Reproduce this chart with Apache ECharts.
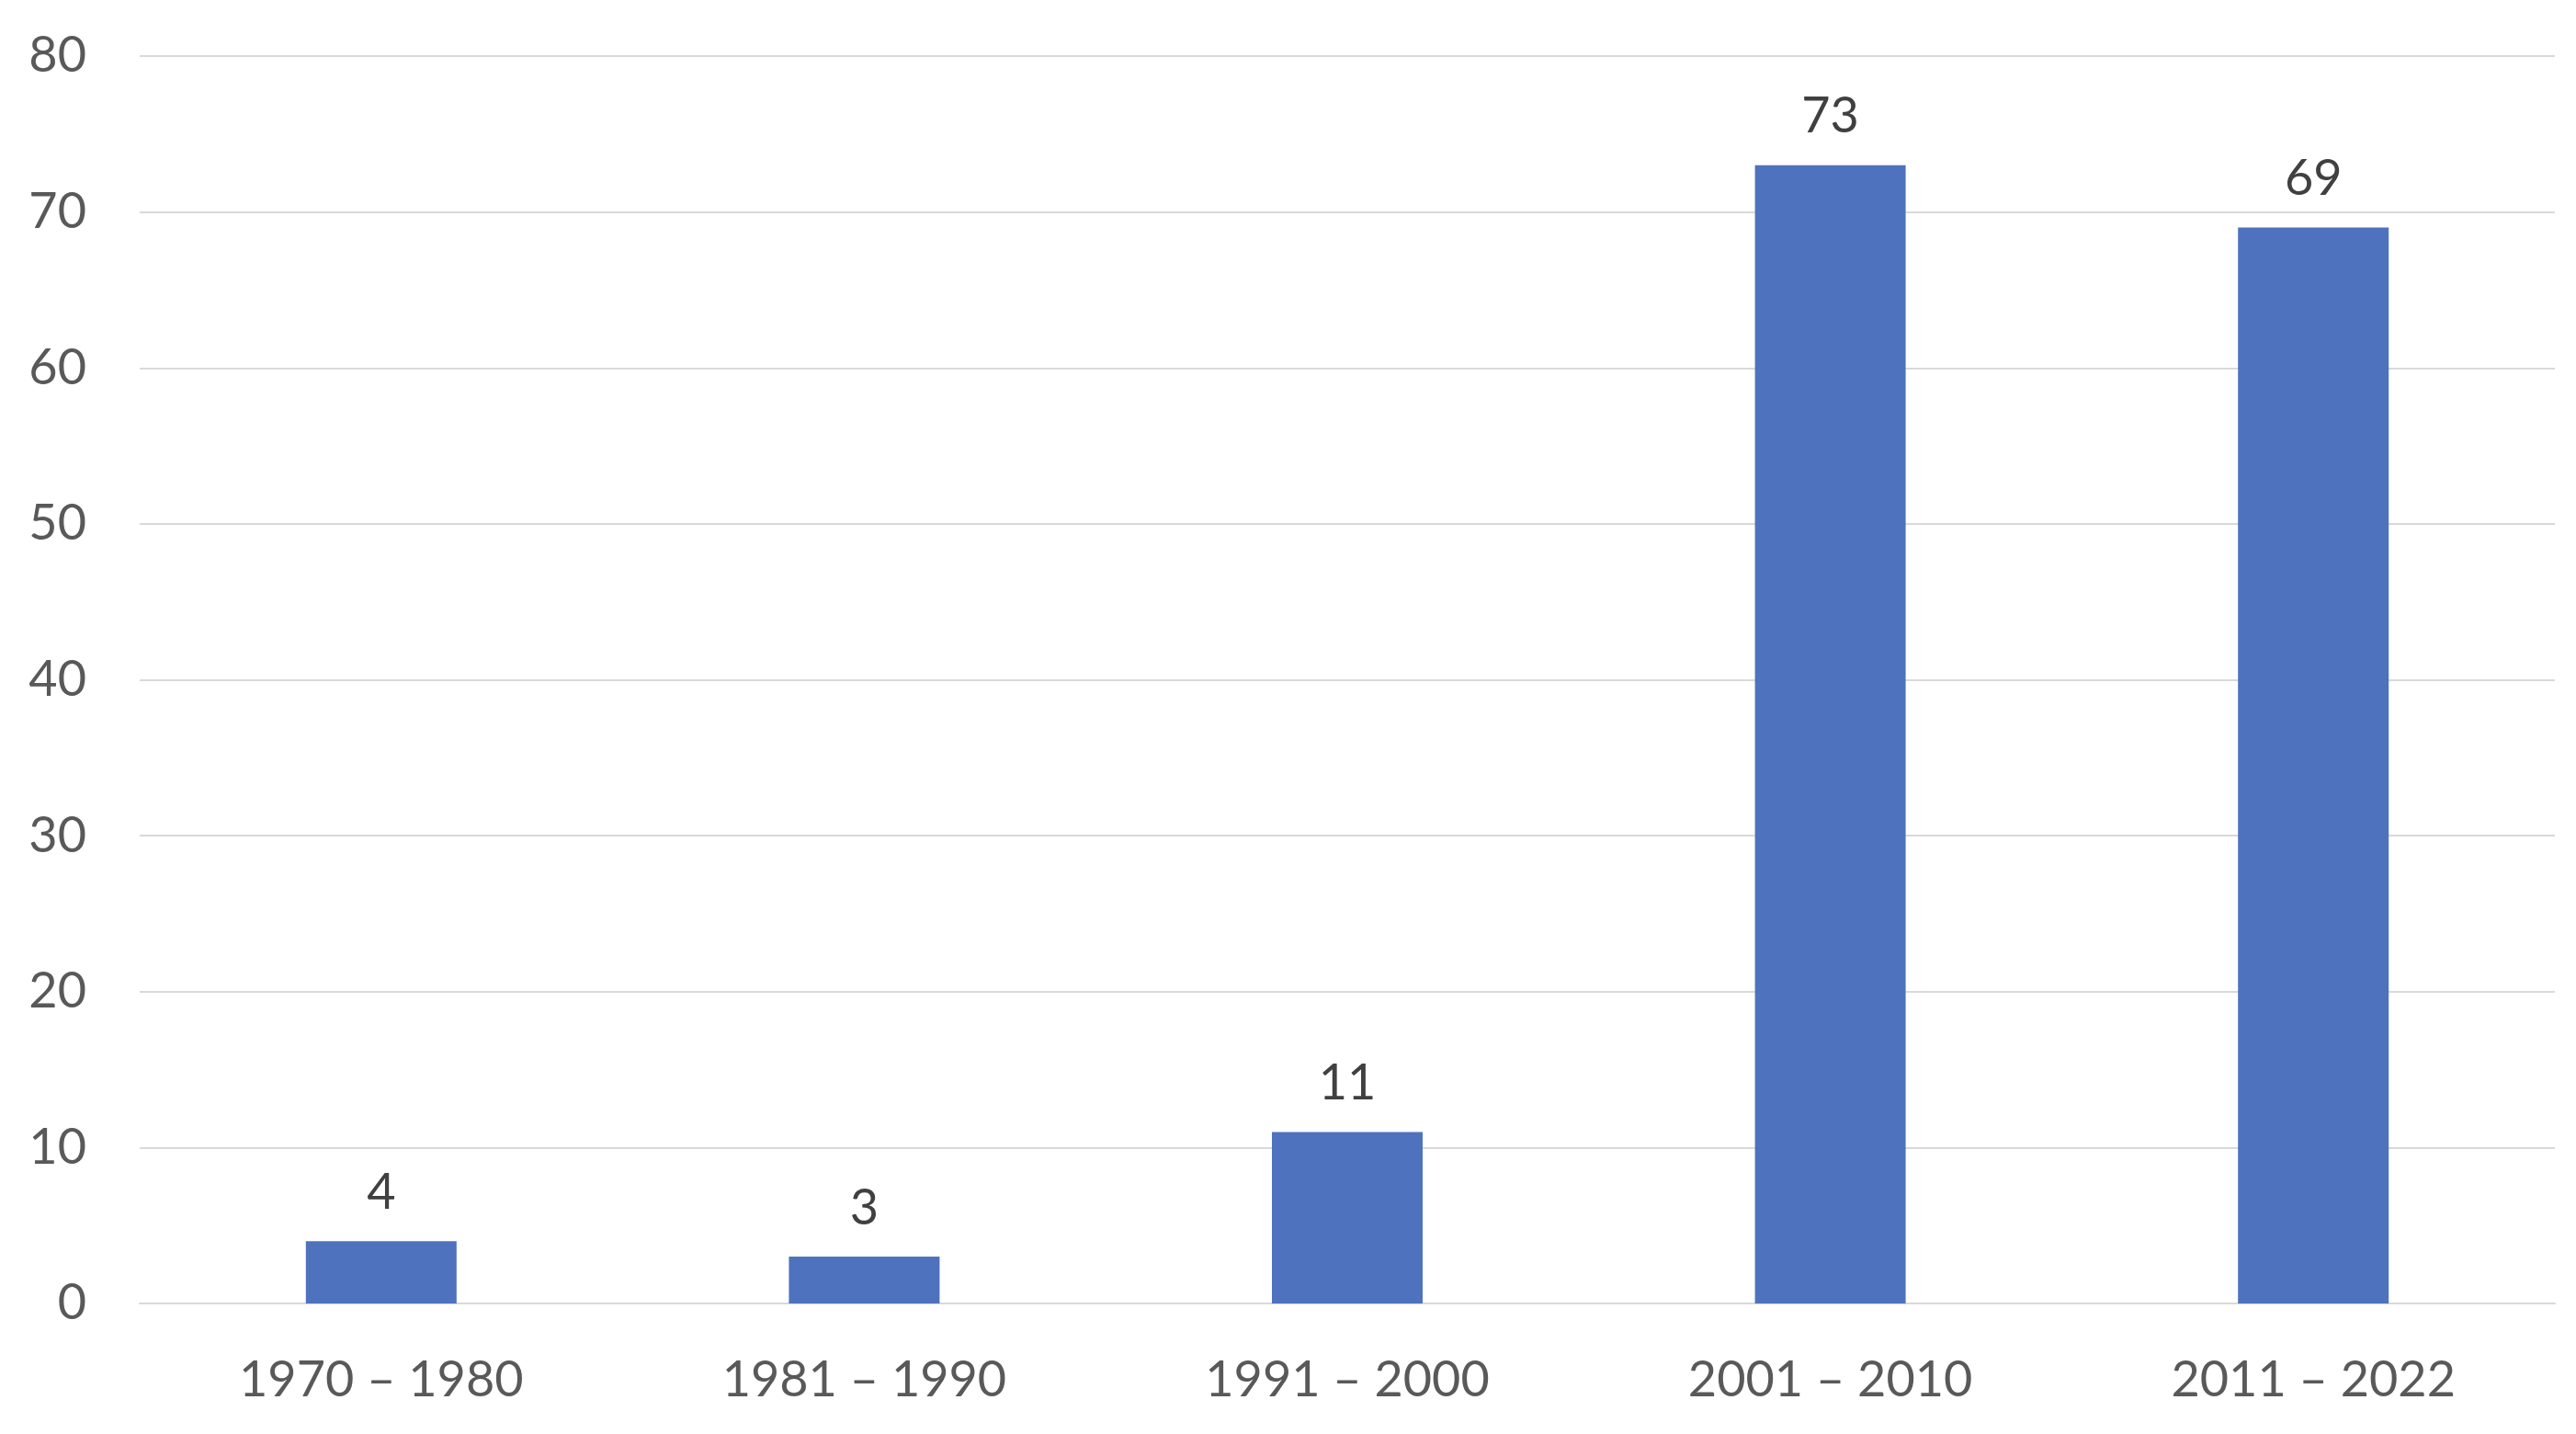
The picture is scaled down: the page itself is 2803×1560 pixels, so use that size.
<!DOCTYPE html>
<html>
<head>
<meta charset="utf-8">
<script src="https://cdn.jsdelivr.net/npm/echarts@6/dist/echarts.min.js"></script>
<style>
  html, body { margin: 0; padding: 0; background: #fff; }
  #chart { width: 2803px; height: 1560px; }
</style>
</head>
<body>
<div id="chart"></div>
<script>
const categories = ['1970 – 1980', '1981 – 1990', '1991 – 2000', '2001 – 2010', '2011 – 2022']
const counts = [4, 3, 11, 73, 69]
const yTicks = [0, 10, 20, 30, 40, 50, 60, 70, 80]

const chart = echarts.init(document.getElementById('chart'))
const option = {
  animation: false,
  textStyle: { fontFamily: 'Lato' },
  grid: {
    left: 152,
    right: 23,
    top: 61,
    bottom: 142
  },
  xAxis: {
    type: 'category',
    data: categories,
    axisLine: { lineStyle: { color: '#D9D9D9', width: 2 } },
    axisTick: { show: false },
    axisLabel: {
      color: '#595959',
      fontSize: 54,
      margin: 57
    }
  },
  yAxis: {
    type: 'value',
    min: yTicks[0],
    max: yTicks[yTicks.length - 1],
    interval: 10,
    axisLine: { show: false },
    axisTick: { show: false },
    axisLabel: {
      color: '#595959',
      fontSize: 54,
      margin: 58
    },
    splitLine: { lineStyle: { color: '#D9D9D9', width: 2 } }
  },
  series: [
    {
      type: 'bar',
      data: counts,
      barWidth: 164,
      itemStyle: { color: '#4F72BE' },
      label: {
        show: true,
        position: 'top',
        distance: 26,
        color: '#404040',
        fontSize: 54
      }
    }
  ]
}
chart.setOption(option)
</script>
</body>
</html>
